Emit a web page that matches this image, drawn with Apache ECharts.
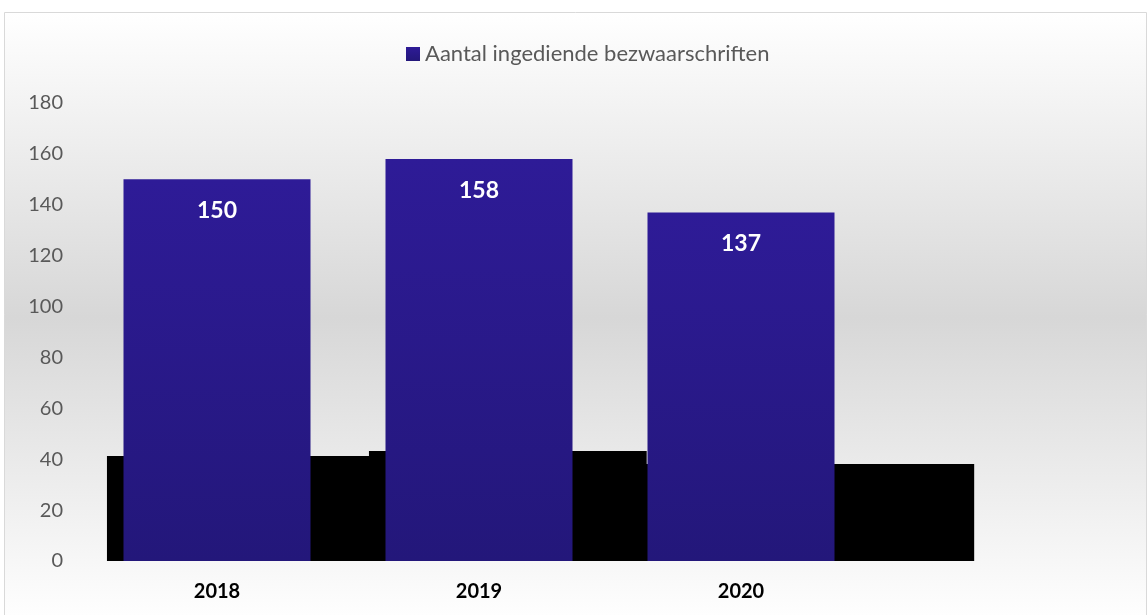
<!DOCTYPE html>
<html>
<head>
<meta charset="utf-8">
<script src="https://cdn.jsdelivr.net/npm/echarts@6/dist/echarts.min.js"></script>
<style>html,body{margin:0;padding:0;background:#fff}#c{width:1147px;height:615px}</style>
</head>
<body>
<div id="c"></div>
<script>
var categories = ['2018', '2019', '2020'];
var seriesName = 'Aantal ingediende bezwaarschriften';
var values = [150, 158, 137];
// black shadow silhouette behind the bars: [position on category scale, height]
var shadowSteps = [[0.08, 41.3], [1.08, 43.2], [2.14, 38.1], [3.39, 38.1]];
var yTicks = { min: 0, max: 180, interval: 20 };

var FONT = 'Lato, "Open Sans", sans-serif';
var chart = echarts.init(document.getElementById('c'), null, { renderer: 'canvas' });
chart.setOption({
  animation: false,
  backgroundColor: '#ffffff',
  graphic: [{
    type: 'rect', z: -10, silent: true,
    shape: { x: 4.5, y: 12.5, width: 1142, height: 610 },
    style: {
      fill: new echarts.graphic.LinearGradient(0, 0, 0, 1, [
        { offset: 0, color: '#ffffff' },
        { offset: 0.5, color: '#d7d7d7' },
        { offset: 1, color: '#ffffff' }
      ]),
      stroke: '#d9d9d9', lineWidth: 1
    }
  }],
  legend: {
    data: [seriesName],
    top: 38, left: 401,
    icon: 'rect', itemWidth: 14, itemHeight: 14, itemGap: 5,
    textStyle: { color: '#595959', fontSize: 22, fontFamily: FONT }
  },
  grid: [
    { left: 86, right: 275, top: 103, bottom: 54, containLabel: false },
    { left: 86, right: 13, top: 103, bottom: 54, containLabel: false }
  ],
  xAxis: [{
    type: 'category', gridIndex: 0, data: categories, boundaryGap: true,
    axisLine: { show: false }, axisTick: { show: false },
    axisLabel: { color: '#000', fontSize: 20, fontWeight: 'bold', fontFamily: FONT, margin: 21 }
  }, {
    type: 'value', gridIndex: 1, min: 0, max: 4, show: false
  }],
  yAxis: [{
    type: 'value', gridIndex: 0, min: yTicks.min, max: yTicks.max, interval: yTicks.interval,
    splitLine: { show: false }, axisLine: { show: false }, axisTick: { show: false },
    axisLabel: { color: '#595959', fontSize: 20, fontFamily: FONT, margin: 23 }
  }, {
    type: 'value', gridIndex: 1, min: yTicks.min, max: yTicks.max, interval: yTicks.interval,
    show: false
  }],
  series: [{
    name: 'shadow', type: 'line', xAxisIndex: 1, yAxisIndex: 1, step: 'end',
    data: shadowSteps, symbol: 'none', z: 1, silent: true,
    lineStyle: { color: '#000', width: 0 },
    areaStyle: { color: '#000', opacity: 1 }
  }, {
    name: seriesName, type: 'bar', xAxisIndex: 0, yAxisIndex: 0, data: values, z: 3,
    barWidth: 187,
    itemStyle: {
      color: new echarts.graphic.LinearGradient(0, 0, 0, 1, [
        { offset: 0, color: '#2e1b97' },
        { offset: 1, color: '#23177a' }
      ])
    },
    label: {
      show: true, position: 'insideTop', distance: 20,
      color: '#ffffff', fontSize: 23, fontWeight: 'bold', fontFamily: FONT
    }
  }]
});
</script>
</body>
</html>
